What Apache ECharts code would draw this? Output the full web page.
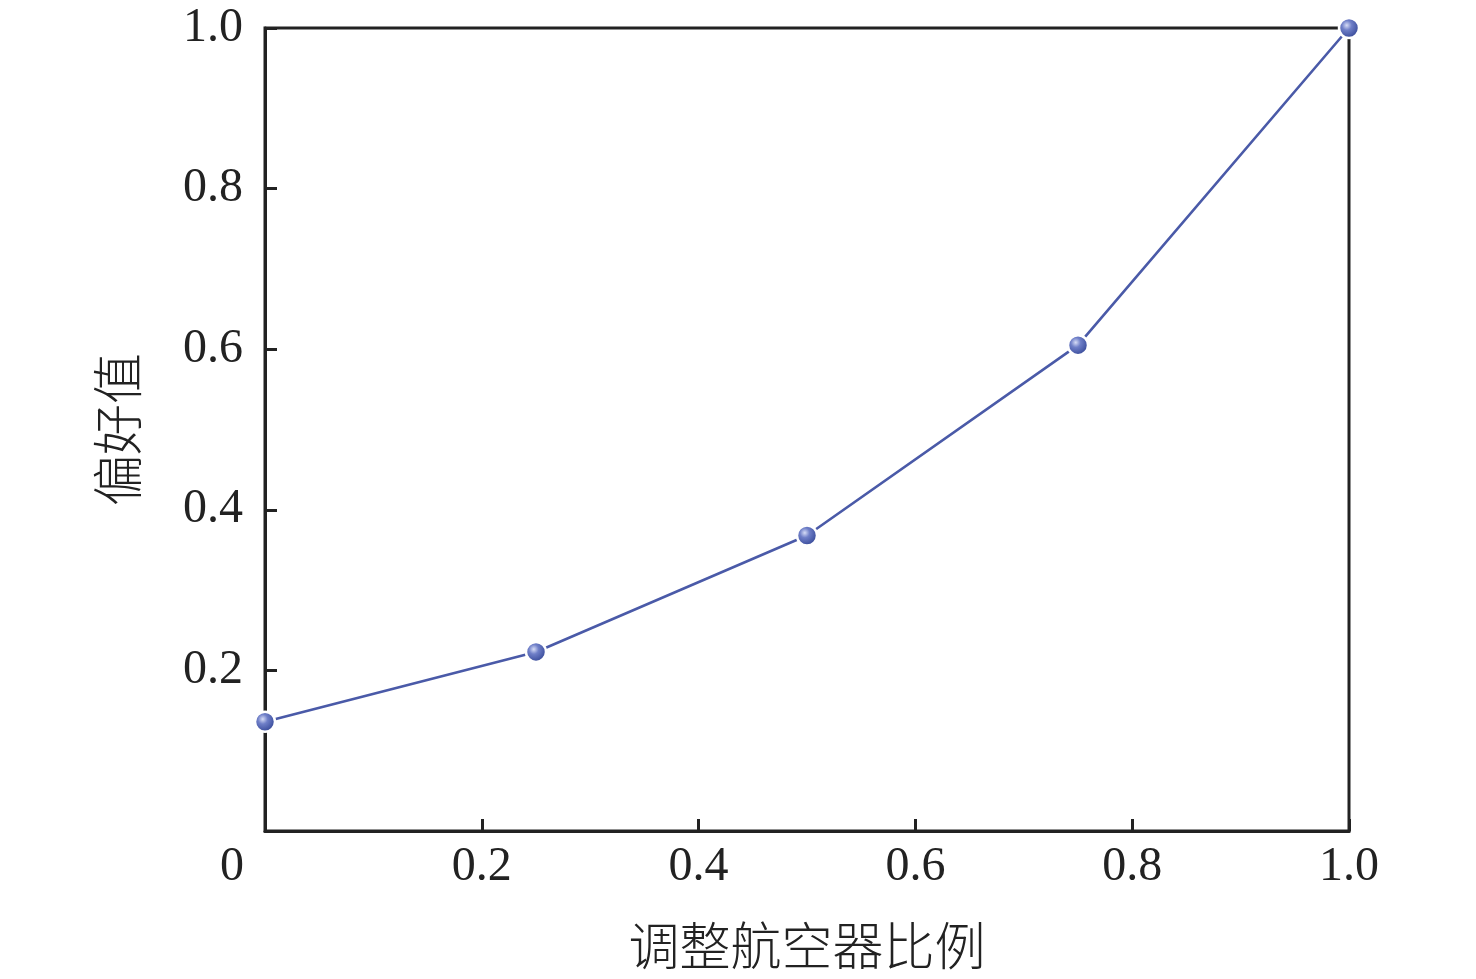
<!DOCTYPE html>
<html><head><meta charset="utf-8">
<script src="https://cdn.jsdelivr.net/npm/echarts@6/dist/echarts.min.js"></script>
<style>html,body{margin:0;padding:0;background:#fff}#c{width:1476px;height:979px}</style>
</head><body><div id="c"></div>
<script>
const xValues = [0, 0.25, 0.5, 0.75, 1.0];
const yValues = [0.136, 0.223, 0.368, 0.605, 1.0];
const xName = '调整航空器比例';
const yName = '偏好值';

const chart = echarts.init(document.getElementById('c'));
const serif = '"Liberation Serif","Times New Roman",Times,serif';
const cjk = '"Noto Sans CJK SC","Noto Sans CJK JP",sans-serif';
const lineColor = '#4a5aa8';
chart.setOption({
  animation: false,
  grid: {left: 265, right: 127, top: 28, bottom: 148, containLabel: false, outerBoundsMode: 'none', show: true, borderColor: '#222', borderWidth: 3, backgroundColor: 'transparent'},
  xAxis: {
    type: 'value', min: 0, max: 1, interval: 0.2,
    name: xName, nameLocation: 'middle', nameGap: 89,
    nameTextStyle: {fontFamily: cjk, fontSize: 51, color: '#222', fontWeight: 300},
    axisLine: {show: true, lineStyle: {color: '#222', width: 3}},
    axisTick: {show: true, inside: true, length: 12, lineStyle: {color: '#222', width: 3}},
    splitLine: {show: false},
    axisLabel: {
      margin: 12, color: '#222', fontFamily: serif, fontSize: 48,
      formatter: v => v === 0 ? '{z|0}' : (v === 1 ? '1.0' : String(Math.round(v*10)/10)),
      rich: {z: {fontFamily: serif, fontSize: 48, color: '#222', padding: [0, 66, 0, 0]}}
    }
  },
  yAxis: {
    type: 'value', min: 0, max: 1, interval: 0.2,
    name: yName, nameLocation: 'middle', nameGap: 122, nameRotate: 90,
    nameTextStyle: {fontFamily: cjk, fontSize: 51, color: '#222', fontWeight: 300},
    axisLine: {show: true, lineStyle: {color: '#222', width: 3}},
    axisTick: {show: true, inside: true, length: 12, lineStyle: {color: '#222', width: 3}},
    splitLine: {show: false},
    axisLabel: {
      margin: 22, color: '#222', fontFamily: serif, fontSize: 48,
      formatter: v => v === 0 ? '' : (v === 1 ? '1.0' : String(Math.round(v*10)/10))
    }
  },
  series: [{
    type: 'line',
    data: xValues.map((x, i) => [x, yValues[i]]),
    symbol: 'circle', symbolSize: 20,
    clip: false,
    lineStyle: {color: lineColor, width: 2.6},
    itemStyle: {
      color: {type: 'radial', x: 0.4, y: 0.38, r: 0.62, colorStops: [
        {offset: 0, color: '#d6dcf6'}, {offset: 0.35, color: '#6f7fc8'}, {offset: 0.8, color: '#4456a4'}, {offset: 1, color: '#34448c'}]},
      borderColor: '#fff', borderWidth: 2.5
    }
  }]
});
</script></body></html>
